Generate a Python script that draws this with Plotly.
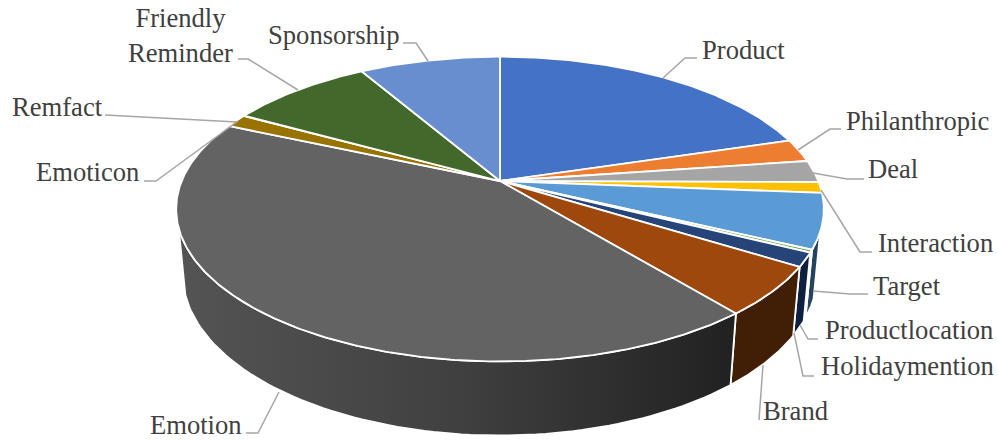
import numpy as np
import plotly.graph_objects as go

# Share of each message category, clockwise from twelve o'clock
categories = ["Product", "Philanthropic", "Deal", "Interaction", "Target",
              "Productlocation", "Holidaymention", "Brand", "Emotion",
              "Emoticon", "Remfact", "Friendly Reminder", "Sponsorship"]
shares = [20.3, 2.45, 2.33, 1.16, 5.8, 0.3, 1.45, 5.2, 42.5, 1.4, 0.05, 8.55, 8.4]

top_colors = ["#4472C4", "#ED7D31", "#A5A5A5", "#FFC000", "#5B9BD5", "#70AD47", "#264478",
              "#9E480E", "#636363", "#997300", "#255E91", "#43682B", "#698ED0"]
wall_colors = ["#213a66", "#74391a", "#505050", "#7a5e00", "#24455F", "#38562a", "#0E2040",
               "#401F06", "#3a3a3a", "#4d3a00", "#122f48", "#213415", "#34476a"]

# Perspective camera for the disc: apex, half-axes, foreshortening, extrusion
APEX_X, APEX_Y = 500.0, 181.0
AXIS_U, AXIS_V = 318.3, 147.2
TILT = 0.1842
DEPTH_SHIFT, DEPTH_SCALE = 65.5, 0.02
# Angular range of the side wall that faces the viewer (degrees clockwise from top)
WALL_FROM, WALL_TO = 108.9, 252.4


def project(theta_deg, lower=False):
    t = np.radians(theta_deg)
    u, v = np.sin(t), -np.cos(t)
    w = 1 - TILT * v + (DEPTH_SCALE if lower else 0)
    dy = DEPTH_SHIFT if lower else 0
    return APEX_X + AXIS_U * u / w, APEX_Y + (AXIS_V * v + dy) / w


total = sum(shares)
edges = np.concatenate([[0], np.cumsum(shares)]) / total * 360

fig = go.Figure()

# Side walls first, the top face is painted over them
for i, name in enumerate(categories):
    a, b = max(edges[i], WALL_FROM), min(edges[i + 1], WALL_TO)
    if b <= a:
        continue
    th = np.linspace(a, b, 80)
    xt, yt = project(th)
    xb, yb = project(th[::-1], lower=True)
    trace = dict(
        x=np.concatenate([xt, xb, xt[:1]]), y=np.concatenate([yt, yb, yt[:1]]),
        mode="lines", fill="toself", line=dict(color="white", width=1.8),
        hoverinfo="skip", showlegend=False,
    )
    if name == "Emotion":
        trace["fillgradient"] = dict(type="horizontal",
                                     colorscale=[[0, "#545454"], [0.5, "#404040"], [1, "#212121"]])
    else:
        trace["fillcolor"] = wall_colors[i]
    fig.add_trace(go.Scatter(**trace))

# Top face wedges
for i, name in enumerate(categories):
    th = np.linspace(edges[i], edges[i + 1], max(4, int((edges[i + 1] - edges[i]) * 2)))
    xa, ya = project(th)
    fig.add_trace(go.Scatter(
        x=np.concatenate([[APEX_X], xa, [APEX_X]]), y=np.concatenate([[APEX_Y], ya, [APEX_Y]]),
        mode="lines", fill="toself", fillcolor=top_colors[i], name=name,
        line=dict(color="white", width=1.8), hoverinfo="name", showlegend=False,
    ))

# Leader lines and label anchors: (text, x, y, anchor, path)
labels = [
    ("Product", 699.5, 50, "left", [(663, 78), (685, 58), (697, 58)]),
    ("Philanthropic", 843.5, 121, "left", [(798, 150), (830, 129), (841, 129)]),
    ("Deal", 866, 169, "left", [(813, 173), (847, 179), (864, 179)]),
    ("Interaction", 876, 243, "left", [(821, 190), (860, 252), (872, 252)]),
    ("Target", 870.5, 286, "left", [(813, 291), (850, 294), (868, 294)]),
    ("Productlocation", 822.5, 330, "left", [(800, 325), (808, 339), (818, 339)]),
    ("Holidaymention", 818.5, 366, "left", [(794, 333), (803, 376), (814, 376)]),
    ("Brand", 761, 411, "left", [(763, 365), (759, 420)]),
    ("Emotion", 147.5, 425, "left", [(279, 392), (258, 433), (246, 433)]),
    ("Emoticon", 33.5, 172, "left", [(238, 121), (156, 181), (144, 181)]),
    ("Remfact", 9.5, 107, "left", [(237, 122), (105, 115)]),
    ("Friendly<br>Reminder", 180, 35, "center", [(298, 90), (248, 59), (238, 59)]),
    ("Sponsorship", 265.5, 35, "left", [(428, 61), (416, 43), (403, 43)]),
]

annotations = []
for text, lx, ly, anchor, path in labels:
    fig.add_trace(go.Scatter(
        x=[p[0] for p in path], y=[p[1] for p in path], mode="lines",
        line=dict(color="#A6A6A6", width=1.5), hoverinfo="skip", showlegend=False,
    ))
    annotations.append(dict(
        x=lx, y=ly, xref="x", yref="y", text=text, showarrow=False,
        xanchor=anchor, yanchor="middle", align="center",
        font=dict(family="Liberation Serif", size=26.6, color="#404040"),
    ))

fig.update_layout(
    width=998, height=440, margin=dict(l=0, r=0, t=0, b=0),
    paper_bgcolor="white", plot_bgcolor="white",
    xaxis=dict(range=[0, 998], visible=False, fixedrange=True),
    yaxis=dict(range=[440, 0], visible=False, fixedrange=True),
    annotations=annotations,
)

fig.write_html("out.html", config={"displayModeBar": False})
